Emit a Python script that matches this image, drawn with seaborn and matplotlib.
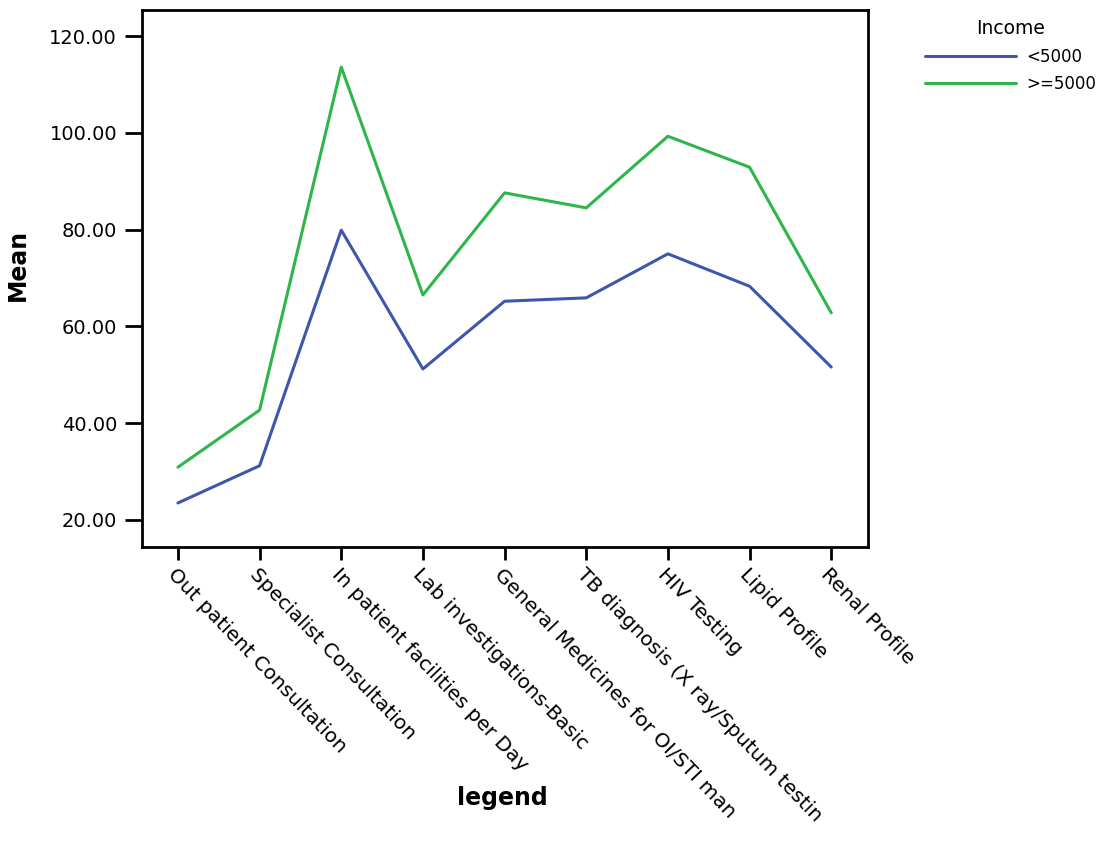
import pandas as pd
import seaborn as sns
import matplotlib.pyplot as plt

# datos
servicios = ['Out patient Consultation', 'Specialist Consultation',
             'In patient facilities per Day', 'Lab investigations-Basic',
             'General Medicines for OI/STI man', 'TB diagnosis (X ray/Sputum testin',
             'HIV Testing', 'Lipid Profile', 'Renal Profile']
bajo = [23.5, 31.2, 79.9, 51.2, 65.2, 65.9, 75.0, 68.3, 51.6]
alto = [30.9, 42.7, 113.6, 66.5, 87.6, 84.5, 99.3, 92.9, 62.8]
grupos = ['<5000', '>=5000']
colores = ['#3f57ab', '#2fb64a']

df = pd.DataFrame({
    'legend': servicios * 2,
    'Mean': bajo + alto,
    'Income': [grupos[0]] * len(bajo) + [grupos[1]] * len(alto),
})

sns.set_style("ticks")
plt.rcParams['font.family'] = ['DejaVu Sans']
plt.rcParams['text.color'] = 'black'
plt.rcParams['axes.labelcolor'] = 'black'
plt.rcParams['xtick.color'] = 'black'
plt.rcParams['ytick.color'] = 'black'

fig = plt.figure(figsize=(10.98, 8.43), dpi=100)
ax = fig.add_axes([142 / 1098, 1 - 547 / 843, (868 - 142) / 1098, (547 - 10) / 843])

sns.lineplot(data=df, x='legend', y='Mean', hue='Income', palette=colores,
             sort=False, linewidth=2.2, ax=ax)

ax.set_ylim(14.4, 125.4)
ax.set_xlim(-0.44, 8.45)
ax.set_yticks([20, 40, 60, 80, 100, 120])
ax.set_yticklabels([f'{v:.2f}' for v in [20, 40, 60, 80, 100, 120]])
for s in ax.spines.values():
    s.set_linewidth(2)
    s.set_color('black')
ax.tick_params(axis='y', length=12, width=2, labelsize=14, color='black', pad=6)
ax.tick_params(axis='x', length=9, width=2, labelsize=14.5, color='black', pad=4)
plt.setp(ax.get_xticklabels(), rotation=-46, ha='left', rotation_mode='anchor')

ax.set_xlabel('legend', fontsize=17, fontweight='bold')
ax.xaxis.set_label_coords(0.497, -0.445)
ax.set_ylabel('Mean', fontsize=17, fontweight='bold')
ax.yaxis.set_label_coords(-0.155, 0.525)

leg = ax.legend(title='Income', loc='upper left', bbox_to_anchor=(1.069, 0.995),
                frameon=False, fontsize=12, title_fontsize=13.5, handlelength=5.5,
                borderaxespad=0, labelspacing=0.55, handletextpad=0.6)

plt.savefig('out.png', dpi=100)
plt.close()
